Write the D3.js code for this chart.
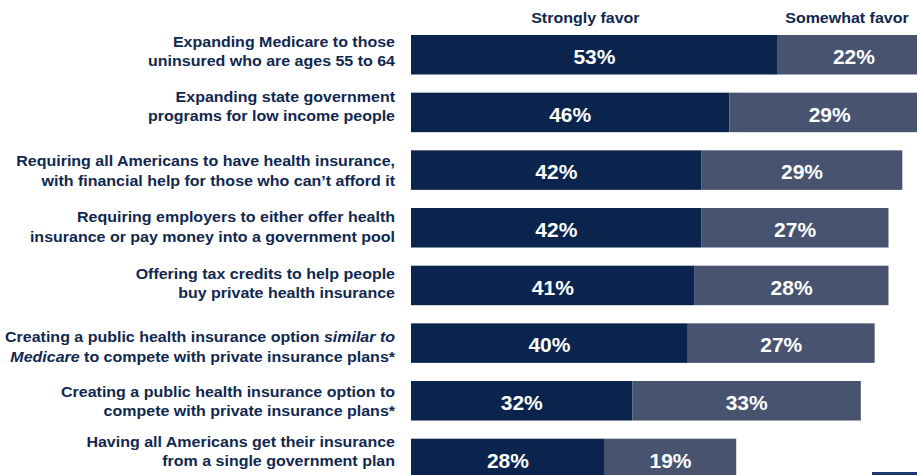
<!DOCTYPE html>
<html>
<head>
<meta charset="utf-8">
<script src="https://cdn.jsdelivr.net/npm/d3@7"></script>
<style>
  html, body { margin: 0; padding: 0; background: #fff; }
  svg { display: block; font-family: "Liberation Sans", Arial, sans-serif; }
</style>
</head>
<body>
<svg id="chart" width="917" height="475"></svg>
<script>
// ---- data ----
const categories = [
  ["Expanding Medicare to those", "uninsured who are ages 55 to 64"],
  ["Expanding state government", "programs for low income people"],
  ["Requiring all Americans to have health insurance,", "with financial help for those who can\u2019t afford it"],
  ["Requiring employers to either offer health", "insurance or pay money into a government pool"],
  ["Offering tax credits to help people", "buy private health insurance"],
  ["Creating a public health insurance option _similar to_", "_Medicare_ to compete with private insurance plans*"],
  ["Creating a public health insurance option to", "compete with private insurance plans*"],
  ["Having all Americans get their insurance", "from a single government plan"]
];
const seriesNames = ["Strongly favor", "Somewhat favor"];
const stronglyFavor = [53, 46, 42, 42, 41, 40, 32, 28];
const somewhatFavor = [22, 29, 29, 27, 28, 27, 33, 19];

// ---- layout (not data) ----
const labelDy = [11.7, 9, 16, 14, 13.3, 19, 15.7, 8.3]; // first-line baseline offset from bar top
const colors = ["#0a244e", "#47536f"];
const textColor = "#10284f";
const vScale = 0.92;

const svg = d3.select("#chart");
const ids = categories.map((c, i) => i);

const x = d3.scaleLinear().domain([0, 100]).range([411, 411 + 692]);
const y = d3.scaleBand().domain(ids).range([35, 478.2]).paddingInner(0.315).paddingOuter(0);

const rows = ids.map(i => ({ i, s: stronglyFavor[i], w: somewhatFavor[i] }));

// bars
const segs = [];
rows.forEach(r => {
  segs.push({ i: r.i, k: 0, x0: 0, x1: r.s, v: r.s });
  segs.push({ i: r.i, k: 1, x0: r.s, x1: r.s + r.w, v: r.w });
});

svg.append("g").selectAll("rect").data(segs).join("rect")
  .attr("x", d => x(d.x0))
  .attr("y", d => y(d.i))
  .attr("width", d => x(d.x1) - x(d.x0))
  .attr("height", y.bandwidth())
  .attr("fill", d => colors[d.k]);

// value labels
svg.append("g").selectAll("g").data(segs).join("g")
  .attr("transform", d => `translate(${(x(d.x0) + x(d.x1)) / 2},${y(d.i) + 29}) scale(1,${vScale})`)
  .append("text")
  .attr("text-anchor", "middle")
  .attr("fill", "#ffffff")
  .attr("font-weight", "bold")
  .attr("font-size", 21)
  .text(d => d.v + "%");

// category labels
const lab = svg.append("g").selectAll("g").data(ids).join("g")
  .attr("transform", i => `translate(395,${y(i) + labelDy[i]}) scale(1,${vScale})`);
lab.each(function(i) {
  const t = d3.select(this).append("text")
    .attr("text-anchor", "end")
    .attr("fill", textColor)
    .attr("font-weight", "bold")
    .attr("font-size", 16);
  categories[i].forEach((line, li) => {
    const parts = line.split("_");
    parts.forEach((p, pi) => {
      if (p === "") return;
      const ts = t.append("tspan").text(p).attr("font-style", pi % 2 === 1 ? "italic" : "normal");
      if (pi === 0 || (pi === 1 && parts[0] === "")) {
        ts.attr("x", 0).attr("y", li * 19.5 / vScale);
      }
    });
  });
});

// series headers
const headerX = [x(25.2), x(63)];
svg.append("g").selectAll("g").data(seriesNames).join("g")
  .attr("transform", (d, k) => `translate(${headerX[k]},23) scale(1,${vScale})`)
  .append("text")
  .attr("text-anchor", "middle")
  .attr("fill", textColor)
  .attr("font-weight", "bold")
  .attr("font-size", 16)
  .text(d => d);

// decorative corner mark
svg.append("rect").attr("x", 872).attr("y", 472).attr("width", 45).attr("height", 3).attr("fill", "#1b3a6b");
</script>
</body>
</html>
